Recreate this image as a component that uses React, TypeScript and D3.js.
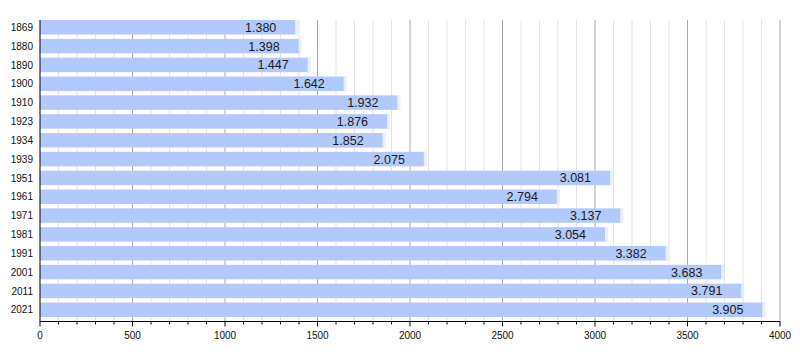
import React from "react";
import * as d3 from "d3";

const years = ["1869","1880","1890","1900","1910","1923","1934","1939","1951","1961","1971","1981","1991","2001","2011","2021"];
const population = [1380,1398,1447,1642,1932,1876,1852,2075,3081,2794,3137,3054,3382,3683,3791,3905];
const majorTicks = [0,500,1000,1500,2000,2500,3000,3500,4000];

const W = 800, H = 360;
const left = 40, right = 780, top = 20, bottom = 321.5;

export default function App() {
  const x = d3.scaleLinear().domain([0, 4000]).range([left, right]);
  const y = d3.scaleBand<string>().domain(years).range([top, 317]).paddingInner(0.23).paddingOuter(0);
  const minor = d3.range(0, 4001, 100);
  const fmt = (v: number) => d3.format(".3f")(v / 1000);
  return (
    <svg width={W} height={H} style={{ position: "absolute", left: 0, top: 0, background: "#fff" }}
      fontFamily="'Liberation Sans', Arial, sans-serif">
      {minor.filter(v => v % 500 !== 0).map(v => (
        <line key={"m" + v} x1={x(v)} x2={x(v)} y1={top} y2={bottom} stroke="#e2e2e2" strokeWidth={1} />
      ))}
      {majorTicks.filter(v => v > 0).map(v => (
        <line key={"M" + v} x1={x(v)} x2={x(v)} y1={top} y2={bottom} stroke="#a8a8a8" strokeWidth={1} />
      ))}
      {years.map((yr, i) => {
        const y0 = y(yr)!;
        const bw = y.bandwidth();
        const xe = x(population[i]);
        return (
          <g key={yr}>
            <rect x={xe} y={y0 - 0.5} width={3} height={bw + 1} fill="#dfe8fd" opacity={0.7} />
            <rect x={x(0)} y={y0} width={xe - x(0)} height={bw} fill="#b2c9fc" />
            <text x={xe - 19} y={y0 + bw / 2} dy="0.36em" textAnchor="end" fontSize={12.5} fill="#1a1a1a">
              {fmt(population[i])}
            </text>
            <text x={33} y={y0 + bw / 2} dy="0.36em" textAnchor="end" fontSize={10} fill="#111">{yr}</text>
          </g>
        );
      })}
      <line x1={left} x2={left} y1={top} y2={bottom + 0.5} stroke="#000" strokeWidth={1} />
      <line x1={left} x2={right} y1={bottom} y2={bottom} stroke="#000" strokeWidth={1} />
      {minor.map(v => (
        <line key={"t" + v} x1={x(v)} x2={x(v)} y1={bottom} y2={bottom + (v % 500 === 0 ? 5 : 3)} stroke="#000" strokeWidth={1} />
      ))}
      {majorTicks.map(v => (
        <text key={"l" + v} x={x(v)} y={339} textAnchor="middle" fontSize={10} fill="#111">{v}</text>
      ))}
    </svg>
  );
}
